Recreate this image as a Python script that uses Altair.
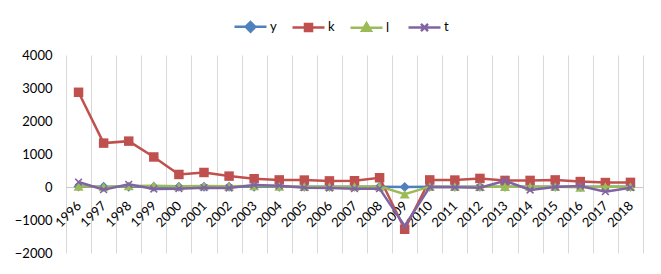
import altair as alt
import pandas as pd

years = ["1996", "1997", "1998", "1999", "2000", "2001", "2002", "2003", "2004", "2005",
         "2006", "2007", "2008", "2009", "2010", "2011", "2012", "2013", "2014", "2015",
         "2016", "2017", "2018"]
y_vals = [15, 10, 10, 10, 10, 10, 10, 10, 10, 10, 10, 10, 10, 0, 10, 10, 10, 10, 10, 10, 10, 10, 10]
k_vals = [2870, 1330, 1390, 910, 380, 440, 330, 250, 215, 210, 185, 190, 280, -1280, 215, 210,
          260, 200, 200, 215, 165, 135, 140]
l_vals = [20, 0, 30, 40, 20, 30, 20, 30, 20, 10, 10, 10, 20, -220, 10, 10, 10, 10, 10, 10, -10, 10, 10]
t_vals = [150, -80, 80, -60, -50, -20, -30, 60, 40, -20, -30, -50, -50, -1180, 0, -10, -20,
          190, -90, 0, 30, -140, -20]

series = ["y", "k", "l", "t"]
colors = ["#4F81BD", "#C0504D", "#9BBB59", "#8064A2"]
markers = ["diamond", "square", "triangle-up", "M-1,-1L1,1M-1,1L1,-1"]
marker_filled = [True, True, True, False]
marker_sizes = [100, 90, 100, 45]
legend_paths = [
    "M-1,0L1,0M0,-0.3L0.3,0L0,0.3L-0.3,0Z",
    "M-1,0L1,0M-0.22,-0.22L0.22,-0.22L0.22,0.22L-0.22,0.22Z",
    "M-1,0L1,0M0,-0.28L0.28,0.2L-0.28,0.2Z",
    "M-1,0L1,0M-0.22,-0.22L0.22,0.22M-0.22,0.22L0.22,-0.22",
]

rows = []
for s, vals in zip(series, [y_vals, k_vals, l_vals, t_vals]):
    for yr, v in zip(years, vals):
        rows.append({"year": yr, "series": s, "value": v})
df = pd.DataFrame(rows)

FONT = "Lato"
W, H = 577, 198

xenc = alt.X(
    "year:O",
    sort=years,
    scale=alt.Scale(type="band", paddingInner=0, paddingOuter=0),
    axis=alt.Axis(
        title=None, tickBand="extent", grid=True, gridColor="#d9d9d9", gridWidth=1,
        labelAngle=-45, labelAlign="right", labelBaseline="top", ticks=False,
        domainColor="#c8c8c8", domainWidth=1, offset=-66, labelPadding=12,
        labelFontSize=13, labelColor="#000000", labelFont=FONT, labelOffset=-4,
    ),
)
yenc = alt.Y(
    "value:Q",
    scale=alt.Scale(domain=[-2000, 4000], nice=False, zero=False),
    axis=alt.Axis(
        title=None, values=[-2000, -1000, 0, 1000, 2000, 3000, 4000], grid=False,
        domain=False, ticks=False, labelPadding=14, labelFontSize=13,
        labelColor="#000000", labelFont=FONT, format="d",
    ),
)
color_scale = alt.Scale(domain=series, range=colors)
fill_scale = alt.Scale(domain=series, range=colors)
stroke_scale = alt.Scale(domain=series, range=colors)
leg = alt.Legend(title=None, orient="none", legendX=167, legendY=-46, direction="horizontal",
                 columns=4, gridAlign="all")

base = alt.Chart(df)
layers = []
for s, mk, filled, ms in zip(series, markers, marker_filled, marker_sizes):
    sub = base.transform_filter(alt.datum.series == s)
    line = sub.mark_line(strokeWidth=2.5).encode(
        x=xenc, y=yenc,
        color=alt.Color("series:N", scale=color_scale, legend=None),
    )
    pts = sub.mark_point(filled=filled, shape=mk, size=ms, strokeWidth=1.6, opacity=1).encode(
        x=xenc, y=yenc,
        color=alt.Color("series:N", scale=color_scale, legend=None),
    )
    layers += [line, pts]

# legend-only layer: its marks sit outside the clipped plot area, only the legend shows
legend_layer = base.mark_point(filled=True, strokeWidth=2.5, opacity=1, clip=True).encode(
    x=xenc, y=alt.value(-2000),
    fill=alt.Fill("series:N", scale=fill_scale, legend=leg),
    stroke=alt.Stroke("series:N", scale=stroke_scale, legend=leg),
    shape=alt.Shape("series:N", scale=alt.Scale(domain=series, range=legend_paths), legend=leg),
)
layers.insert(0, legend_layer)

chart = alt.layer(*layers).properties(
    width=W, height=H,
    autosize=alt.AutoSizeParams(type="none"),
    padding={"left": 58, "top": 47, "right": 10, "bottom": 13},
    background="white",
).configure_view(stroke=None).configure_legend(
    symbolSize=1024, symbolStrokeWidth=2.5, labelFontSize=13, labelFont=FONT,
    labelColor="#000000", columnPadding=10, labelOffset=2, padding=0,
)

chart.save("out.html", embed_options={"renderer": "svg", "actions": False})
